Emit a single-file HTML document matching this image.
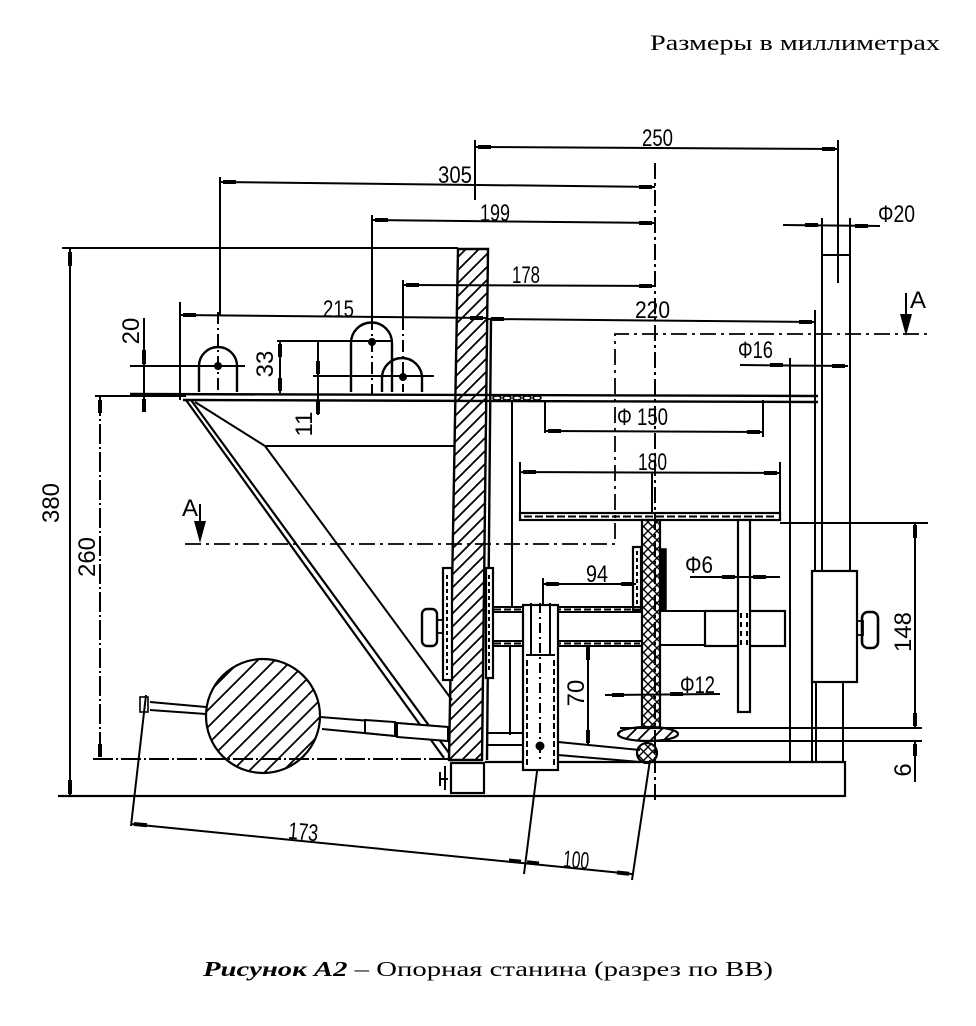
<!DOCTYPE html>
<html><head><meta charset="utf-8"><style>
html,body{margin:0;padding:0;background:#fff;}
svg{display:block}
.t{font-family:"Liberation Sans",sans-serif;font-size:24px;fill:#000;stroke:none}
.s{font-family:"Liberation Serif","Noto Serif CJK SC",serif;fill:#000;stroke:none}
</style></head><body>
<svg width="976" height="1026" viewBox="0 0 976 1026" xmlns="http://www.w3.org/2000/svg">
<defs>
<pattern id="h1" patternUnits="userSpaceOnUse" width="13" height="13"><path d="M-2,15 L15,-2 M-2,2 L2,-2 M11,15 L15,11" stroke="#000" stroke-width="1.8"/></pattern>
<pattern id="h2" patternUnits="userSpaceOnUse" width="17" height="17"><path d="M-2,19 L19,-2 M-2,2 L2,-2 M15,19 L19,15" stroke="#000" stroke-width="1.8"/></pattern>
<pattern id="h3" patternUnits="userSpaceOnUse" width="9" height="9"><path d="M-1,10 L10,-1 M-1,-1 L10,10" stroke="#000" stroke-width="1.4"/></pattern>
</defs>

<!-- Title -->
<text class="s" x="650" y="50" font-size="22" textLength="290" lengthAdjust="spacingAndGlyphs">Размеры в миллиметрах</text>

<!-- Caption -->
<text class="s" x="203" y="976" font-size="21" textLength="570" lengthAdjust="spacingAndGlyphs"><tspan font-weight="bold" font-style="italic">Рисунок А2</tspan> – Опорная станина (разрез по ВВ)</text>

<g fill="none" stroke="#000" stroke-width="2" stroke-linecap="butt">
<!-- top dimension extension lines -->
<path d="M475,140 V200 M838,140 V283 M220,177 V315 M372,215 V318 M403,280 V318 M180,302 V400"/>
<path d="M372,318 V395 M403,318 V392 M218,312 V392" stroke-dasharray="12 4 2 4"/>
<path d="M655,163 V800" stroke-dasharray="16 4 3 4"/>
<!-- dimension lines -->
<path d="M475,147 L838,149"/>
<path d="M220,182 L655,187"/>
<path d="M372,220 L655,223"/>
<path d="M403,285 L655,286"/>
<path d="M180,315 L488,318"/>
<path d="M488,319 L815,322"/>
<path d="M62,248 L458,248"/>
<!-- arrows -->
<g stroke-width="4">
<path d="M478,147 H491 M822,149 H835"/>
<path d="M223,182 H236 M639,187 H652"/>
<path d="M375,220 H388 M639,223 H652"/>
<path d="M406,285 H419 M639,286 H652"/>
<path d="M183,315 H196 M470,318 H483"/>
<path d="M491,319 H504 M799,322 H812"/>
</g>

<!-- Phi20 -->
<path d="M822,218 V572 M850,218 V572 M822,255 H850 M815,310 V572"/>
<path d="M783,225 L880,226"/>
<path d="M805,225 H818 M855,226 H868" stroke-width="4"/>
<!-- Phi16 -->
<path d="M740,365 L848,366 M790,358 V762"/>
<path d="M770,365 H783 M832,366 H845" stroke-width="4"/>

<!-- Section A line -->
<path d="M185,544 H615 V334 H927" stroke-dasharray="16 5 3 5" stroke-width="1.8"/>
<path d="M906,293 V318 M200,504 V525"/>
<polygon points="900,314 912,314 906,336" fill="#000" stroke="none"/>
<polygon points="194,521 206,521 200,543" fill="#000" stroke="none"/>

<!-- 380 / 260 / 20 / 33 / 11 dims -->
<path d="M70,248 V796"/>
<path d="M70,252 V266 M70,780 V794" stroke-width="4"/>
<path d="M100,396 V759" stroke-dasharray="20 3 2 3"/>
<path d="M100,400 V413 M100,744 V757" stroke-width="4"/>
<path d="M95,396 H186"/>
<path d="M144,318 V412 M130,366 H245"/>
<path d="M144,350 V364 M144,399 V412" stroke-width="4"/>
<path d="M280,341 V393 M277,341 H392"/>
<path d="M280,344 V357 M280,378 V391" stroke-width="4"/>
<path d="M318,340 V415 M313,376 H434"/>
<path d="M318,361 V374 M318,401 V414" stroke-width="4"/>

<!-- holes -->
<g stroke-width="2.4">
<path d="M199,392 V366 A19,19 0 0 1 237,366 V392"/>
<path d="M351,392 V343 A20.5,20.5 0 0 1 392,343 V392"/>
<path d="M382,392 V378 A20,20 0 0 1 422,378 V392"/>
</g>
<circle cx="218" cy="366" r="3" fill="#000"/>
<circle cx="372" cy="342" r="3" fill="#000"/>
<circle cx="403" cy="377" r="3" fill="#000"/>

<!-- platform -->
<path d="M130,394 L818,396 M183,400 L818,402" stroke-width="2.4"/>
<g stroke-width="1.6">
<ellipse cx="497" cy="398" rx="4" ry="2"/><ellipse cx="507" cy="398" rx="4" ry="2"/><ellipse cx="517" cy="398" rx="4" ry="2"/><ellipse cx="527" cy="398" rx="4" ry="2"/><ellipse cx="537" cy="398" rx="4" ry="2"/>
</g>

<!-- post -->
<polygon points="458,249 488,249 482,760 449,760" fill="url(#h1)" stroke-width="2.4"/>
<path d="M491,318 L487,760" stroke-width="2.4"/>
<rect x="443" y="568" width="9" height="112" fill="#fff" stroke-width="2.2"/>
<rect x="486" y="568" width="7" height="110" fill="#fff" stroke-width="2.2"/>
<path d="M447,575 V675 M489,575 V672" stroke-dasharray="4 3"/>
<rect x="422" y="609" width="15" height="37" rx="5" stroke-width="2.4"/>
<rect x="437" y="620" width="6" height="13" stroke-width="1.8"/>
<rect x="451" y="763" width="33" height="30" stroke-width="2.2"/>
<path d="M445,766 V790 M440,772 V786 M440,779 H448"/>

<!-- hopper -->
<path d="M186,400 L444,758 M191,400 L449,753" stroke-width="2.2"/>
<path d="M195,402 L265,446 H455 M265,446 L452,700" stroke-width="2"/>

<!-- wheel -->
<circle cx="263" cy="716" r="57" fill="url(#h2)" stroke-width="2.2"/>
<path d="M150,702 L206,707 M150,710 L206,714"/>
<rect x="140" y="697" width="8" height="15" stroke-width="1.6"/>
<!-- axle -->
<path d="M320,717 L448,727 M322,729 L448,741"/>
<path d="M365,720 L395,722 L395,736 L365,733 Z M397,723 L448,727 L448,741 L397,737 Z" fill="#fff" stroke-width="2"/>

<!-- 173 / 100 -->
<path d="M146,695 L131,826"/>
<path d="M131,824 L632,874"/>
<path d="M540,748 L524,874 M650,760 L632,880"/>
<g stroke-width="4">
<path d="M134,824 L147,825.3 M509,860.5 L521,861.7 M527,862.3 L539,863.5 M617,872.5 L629,873.7"/>
</g>

<!-- ground lines -->
<path d="M93,759 H450" stroke-dasharray="20 3 2 3"/>
<path d="M58,796 H845 M485,762 H845 V797" stroke-width="2.2"/>

<!-- right of post -->
<path d="M512,400 V608 M545,400 V433 M763,400 V437"/>
<path d="M545,431 L763,432"/>
<path d="M548,431 H561 M747,432 H760" stroke-width="4"/>
<path d="M520,462 V512 M780,462 V520 M520,472 L780,473 M652,473 V513"/>
<path d="M523,472 H536 M764,473 H777" stroke-width="4"/>
<rect x="520" y="513" width="260" height="7" stroke-width="2.2"/>
<path d="M524,516.5 H776" stroke-dasharray="8 3"/>
<path d="M780,523 H928"/>

<!-- spindle -->
<rect x="642" y="520" width="18" height="208" fill="url(#h3)" stroke-width="2.2"/>
<rect x="633" y="547" width="8" height="63" fill="#fff" stroke-width="2.2"/>
<path d="M637,551 V606" stroke-dasharray="4 3"/>
<rect x="660" y="549" width="6" height="61" fill="#000" stroke-width="1.5"/>

<!-- shaft -->
<path d="M492,607 H642 M492,612 H642 M492,641 H642 M492,646 H642" stroke-width="2"/>
<path d="M494,609.5 H640 M494,643.5 H640" stroke-dasharray="7 3" stroke-width="2"/>
<path d="M660,611 H705 M660,645 H705"/>
<rect x="705" y="611" width="80" height="35" stroke-width="2.2"/>

<!-- vertical tube -->
<rect x="523" y="605" width="35" height="165" fill="#fff" stroke-width="2.2"/>
<path d="M531,603 V655 M550,603 V655 M526,655 H555"/>
<path d="M527,660 V766 M554,660 V766" stroke-dasharray="6 3"/>
<path d="M540,603 V760" stroke-dasharray="10 4 2 4"/>
<circle cx="540" cy="746" r="3.5" fill="#000"/>

<!-- 94 -->
<path d="M543,578 V605 M543,584 L636,584"/>
<path d="M546,584 H559 M621,584 H634" stroke-width="4"/>

<!-- phi6 rod -->
<rect x="738" y="520" width="12" height="192" fill="#fff" stroke-width="2.2"/>
<path d="M741,613 V645 M747,613 V645" stroke="#fff" stroke-width="3"/>
<path d="M741,613 V645 M747,613 V645" stroke-dasharray="5 4"/>
<path d="M690,577 L780,577"/>
<path d="M722,577 H735 M753,577 H766" stroke-width="4"/>

<!-- phi12 -->
<path d="M605,695 L720,694"/>
<path d="M612,695 H624 M670,694 H683" stroke-width="4"/>

<!-- 70 -->
<path d="M588,645 V745"/>
<path d="M588,647 V660 M588,730 V743" stroke-width="4"/>
<path d="M510,645 V735"/>

<!-- lower linkage -->
<path d="M487,733 H523 M487,745 H523"/>
<path d="M558,742 L640,750 M558,755 L640,762"/>
<path d="M620,728 H922 M655,741 H922"/>
<ellipse cx="648" cy="734" rx="30" ry="7" fill="url(#h1)" stroke-width="2.2"/>
<circle cx="647" cy="753" r="10" fill="url(#h3)" stroke-width="2.2"/>

<!-- slider box -->
<rect x="812" y="571" width="45" height="111" fill="#fff" stroke-width="2.2"/>
<path d="M812,682 V762 M816,682 V762 M843,682 V762"/>
<rect x="857" y="621" width="6" height="14" stroke-width="1.8"/>
<rect x="862" y="612" width="16" height="36" rx="6" stroke-width="2.6"/>

<!-- 148 / 6 -->
<path d="M915,523 V728 M915,742 V782"/>
<path d="M915,525 V538 M915,713 V726 M915,744 V756" stroke-width="4"/>
</g>

<!-- dimension text -->
<text class="t" x="642" y="146" textLength="31" lengthAdjust="spacingAndGlyphs">250</text>
<text class="t" x="438" y="183" textLength="34" lengthAdjust="spacingAndGlyphs">305</text>
<text class="t" x="480" y="221" textLength="30" lengthAdjust="spacingAndGlyphs">199</text>
<text class="t" x="512" y="283" textLength="28" lengthAdjust="spacingAndGlyphs">178</text>
<text class="t" x="323" y="317" textLength="31" lengthAdjust="spacingAndGlyphs">215</text>
<text class="t" x="635" y="318" textLength="35" lengthAdjust="spacingAndGlyphs">220</text>
<text class="t" x="878" y="222" textLength="37" lengthAdjust="spacingAndGlyphs">Φ20</text>
<text class="t" x="738" y="358" textLength="35" lengthAdjust="spacingAndGlyphs">Φ16</text>
<text class="t" x="617" y="425" textLength="51" lengthAdjust="spacingAndGlyphs">Φ 150</text>
<text class="t" x="638" y="470" textLength="29" lengthAdjust="spacingAndGlyphs">180</text>
<text class="t" x="586" y="582" textLength="22" lengthAdjust="spacingAndGlyphs">94</text>
<text class="t" x="685" y="573" textLength="28" lengthAdjust="spacingAndGlyphs">Φ6</text>
<text class="t" x="680" y="693" textLength="35" lengthAdjust="spacingAndGlyphs">Φ12</text>
<text class="t" x="288" y="840" textLength="30" lengthAdjust="spacingAndGlyphs" transform="rotate(5 303 835)">173</text>
<text class="t" x="563" y="868" textLength="26" lengthAdjust="spacingAndGlyphs" transform="rotate(5 576 862)">100</text>
<text class="t" x="910" y="308" font-size="19">A</text>
<text class="t" x="182" y="516" font-size="19">A</text>

<g text-anchor="middle">
<text transform="translate(52,503) rotate(-90)" dy="7" class="t" font-size="20">380</text>
<text transform="translate(88,557) rotate(-90)" dy="7" class="t" font-size="20">260</text>
<text transform="translate(132,331) rotate(-90)" dy="7" class="t" font-size="20">20</text>
<text transform="translate(266,364) rotate(-90)" dy="7" class="t" font-size="22">33</text>
<text transform="translate(305,424) rotate(-90)" dy="7" class="t" font-size="20">11</text>
<text transform="translate(577,693) rotate(-90)" dy="7" class="t" font-size="22">70</text>
<text transform="translate(904,632) rotate(-90)" dy="7" class="t" font-size="20">148</text>
<text transform="translate(904,770) rotate(-90)" dy="7" class="t" font-size="20">6</text>
</g>
</svg>
</body></html>
